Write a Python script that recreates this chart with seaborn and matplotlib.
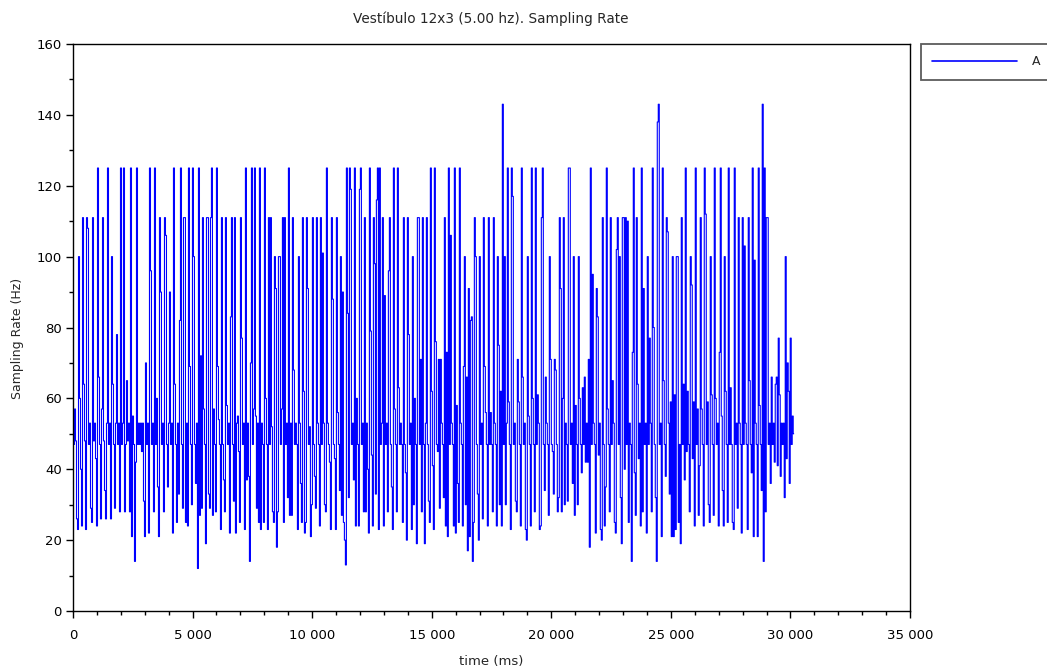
import numpy as np
import pandas as pd
import matplotlib
matplotlib.use("Agg")
import matplotlib.pyplot as plt
import seaborn as sns
from matplotlib.ticker import MultipleLocator, FuncFormatter

title = "Vestíbulo 12x3 (5.00 hz). Sampling Rate"
x_label = "time (ms)"
y_label = "Sampling Rate (Hz)"
series_name = "A"
sample_step_ms = 41.8

# Sampling rate (Hz), in 5 s blocks
rate_0_5s = [50, 47, 57, 48, 26, 23, 100, 60, 40, 24,
             111, 64, 48, 23, 111, 108, 47, 53, 29, 25,
             111, 48, 53, 43, 24, 125, 66, 47, 26, 57,
             111, 48, 34, 26, 53, 125, 47, 53, 26, 100,
             64, 47, 29, 53, 78, 47, 53, 28, 125, 47,
             53, 125, 28, 47, 65, 48, 53, 28, 125, 21,
             55, 47, 14, 42, 125, 47, 53, 47, 53, 45,
             53, 31, 21, 70, 47, 53, 22, 125, 96, 47,
             53, 28, 125, 47, 60, 35, 21, 111, 90, 47,
             53, 28, 111, 106, 47, 35, 53, 90, 47, 53,
             22, 125, 64, 47, 25, 53, 33, 82, 125, 47,
             29, 111, 111, 25, 53, 24, 125, 69, 47, 30]
rate_5_10s = [125, 100, 47, 36, 53, 12, 125, 27, 72, 29,
              111, 57, 47, 19, 111, 111, 33, 29, 111, 125,
              27, 57, 47, 28, 125, 69, 54, 47, 23, 111,
              47, 37, 28, 111, 58, 47, 53, 22, 83, 111,
              47, 31, 111, 22, 53, 55, 45, 25, 111, 77,
              47, 53, 23, 125, 37, 53, 38, 14, 70, 125,
              47, 57, 125, 55, 29, 53, 25, 125, 23, 53,
              47, 25, 125, 60, 47, 23, 111, 47, 111, 52,
              28, 25, 100, 91, 18, 28, 100, 100, 47, 57,
              111, 25, 111, 47, 53, 32, 125, 27, 53, 27,
              111, 68, 47, 53, 47, 23, 100, 53, 36, 25,
              111, 62, 22, 25, 111, 91, 47, 52, 21, 30]
rate_10_15s = [111, 47, 38, 29, 111, 53, 47, 24, 111, 47,
               101, 53, 30, 28, 125, 53, 47, 42, 23, 111,
               88, 47, 43, 23, 111, 56, 47, 34, 100, 27,
               90, 25, 20, 13, 125, 84, 32, 125, 119, 47,
               53, 37, 125, 24, 60, 47, 24, 119, 125, 47,
               53, 28, 111, 28, 53, 40, 22, 125, 79, 44,
               24, 111, 98, 33, 116, 125, 23, 125, 47, 53,
               111, 24, 89, 47, 53, 28, 96, 111, 47, 35,
               23, 125, 57, 47, 28, 125, 63, 47, 53, 47,
               25, 111, 47, 39, 20, 111, 78, 47, 53, 23,
               100, 30, 60, 47, 19, 111, 111, 47, 71, 28,
               111, 47, 19, 53, 111, 47, 31, 25, 125, 62]
rate_15_20s = [41, 23, 125, 76, 47, 45, 71, 29, 71, 53,
               47, 32, 111, 24, 73, 21, 125, 47, 106, 53,
               47, 24, 125, 22, 58, 36, 25, 125, 53, 47,
               24, 69, 100, 30, 66, 17, 91, 21, 82, 83,
               14, 25, 111, 100, 47, 33, 20, 100, 47, 53,
               26, 111, 69, 56, 47, 24, 111, 47, 56, 47,
               28, 111, 53, 47, 24, 100, 75, 30, 62, 24,
               143, 47, 100, 30, 53, 125, 59, 47, 23, 125,
               117, 47, 53, 31, 28, 71, 59, 47, 24, 125,
               66, 47, 53, 23, 20, 100, 55, 47, 24, 125,
               60, 47, 28, 125, 47, 61, 53, 23, 24, 111,
               125, 47, 34, 66, 53, 47, 27, 100, 71, 47]
rate_20_25s = [45, 33, 71, 68, 47, 28, 32, 111, 91, 28,
               60, 111, 30, 53, 47, 31, 125, 125, 47, 53,
               36, 100, 27, 58, 47, 30, 100, 60, 47, 39,
               63, 47, 66, 42, 53, 42, 71, 18, 125, 47,
               95, 53, 47, 22, 91, 83, 44, 53, 23, 20,
               111, 47, 24, 35, 125, 57, 47, 28, 111, 47,
               65, 53, 25, 22, 102, 111, 47, 100, 32, 19,
               111, 111, 40, 111, 47, 110, 25, 53, 47, 14,
               73, 125, 39, 27, 111, 64, 43, 53, 24, 125,
               28, 91, 47, 53, 22, 100, 47, 77, 53, 28,
               125, 80, 47, 32, 14, 138, 143, 47, 53, 21,
               125, 65, 47, 38, 111, 107, 53, 33, 59, 21]
rate_25_30s = [100, 21, 61, 23, 100, 100, 25, 47, 19, 111,
               47, 64, 37, 125, 45, 62, 47, 28, 100, 92,
               43, 59, 24, 125, 47, 57, 27, 41, 111, 57,
               47, 24, 125, 112, 47, 59, 30, 25, 100, 61,
               47, 27, 125, 60, 47, 53, 24, 73, 125, 55,
               34, 24, 100, 62, 47, 25, 125, 47, 63, 47,
               25, 23, 125, 47, 53, 29, 111, 53, 47, 22,
               111, 47, 103, 53, 47, 23, 111, 65, 47, 39,
               125, 21, 99, 53, 47, 21, 125, 58, 47, 34,
               143, 14, 125, 28, 111, 111, 47, 53, 36, 66,
               47, 53, 42, 64, 66, 41, 77, 61, 38, 53,
               47, 53, 32, 100, 43, 70, 62, 36, 77, 47,
               55, 50]

rate = np.array(rate_0_5s + rate_5_10s + rate_10_15s + rate_15_20s
                + rate_20_25s + rate_25_30s, dtype=float)
time = np.arange(len(rate)) * sample_step_ms
df = pd.DataFrame({"time": time, "rate": rate})

sns.set_theme(style="ticks")
plt.rcParams["font.family"] = ["DejaVu Sans"]

W, H = 1047, 671
fig = plt.figure(figsize=(W / 100, H / 100), dpi=100)
fig.patch.set_facecolor("white")
ax = fig.add_axes([73 / W, 1 - 611 / H, (910 - 73) / W, (611 - 44) / H])
ax.set_facecolor("white")

sns.lineplot(data=df, x="time", y="rate", color="#0000ff", linewidth=0.8,
             estimator=None, sort=False, label=series_name, ax=ax, legend=False,
             drawstyle="steps-mid")

ax.set_xlim(0, 35000)
ax.set_ylim(0, 160)
ax.xaxis.set_major_locator(MultipleLocator(5000))
ax.xaxis.set_minor_locator(MultipleLocator(1000))
ax.yaxis.set_major_locator(MultipleLocator(20))
ax.yaxis.set_minor_locator(MultipleLocator(10))
ax.xaxis.set_major_formatter(FuncFormatter(lambda v, p: f"{int(round(v)):,}".replace(",", " ")))
ax.yaxis.set_major_formatter(FuncFormatter(lambda v, p: f"{int(round(v))}"))
ax.tick_params(which="major", direction="out", length=5, width=1, colors="black",
               labelsize=9.5, pad=3)
ax.tick_params(axis="x", which="major", pad=8)
ax.tick_params(which="minor", direction="out", length=3, width=1, colors="black")
for s in ax.spines.values():
    s.set_visible(True)
    s.set_color("black")
    s.set_linewidth(1)
ax.set_xlabel("")
ax.set_ylabel("")

fig.text(491 / W, 1 - 19 / H, title, ha="center", va="center", fontsize=9.8)
fig.text(491 / W, 1 - 662 / H, x_label, ha="center", va="center", fontsize=9.5)
fig.text(18 / W, 1 - 338 / H, y_label, ha="center", va="center", fontsize=9,
         rotation=90)

handles, labels = ax.get_legend_handles_labels()
leg = ax.legend(handles, labels, loc="upper left",
                bbox_to_anchor=(921 / W, 1 - 44 / H), bbox_transform=fig.transFigure,
                frameon=True, fancybox=False, edgecolor="#333333", fontsize=9,
                handlelength=6.8, handletextpad=1.2, borderaxespad=0,
                borderpad=0.9)
leg.get_frame().set_linewidth(1.3)
for line in leg.get_lines():
    line.set_linewidth(1.2)

fig.savefig("out.png", dpi=100, facecolor="white")
